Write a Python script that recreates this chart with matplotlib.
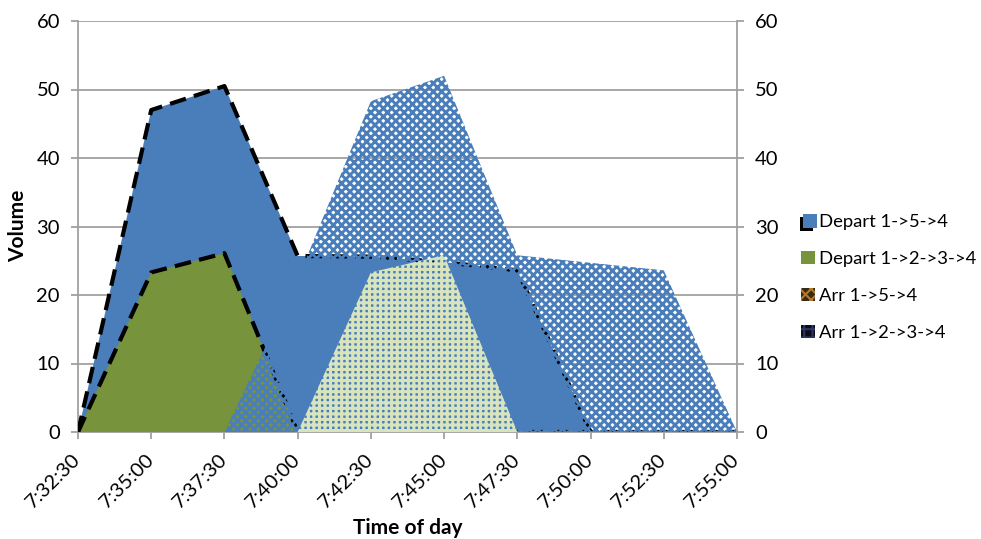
import matplotlib.pyplot as plt
from matplotlib.patches import Rectangle
from matplotlib.legend_handler import HandlerBase

times = ["7:32:30", "7:35:00", "7:37:30", "7:40:00", "7:42:30",
         "7:45:00", "7:47:30", "7:50:00", "7:52:30", "7:55:00"]
depart_154 = [0, 47.0, 50.5, 25.7, 25.6, 24.8, 23.6, 0, 0, 0]
depart_1234 = [0, 23.3, 26.1, 0, 0, 0, 0, 0, 0, 0]
arr_154 = [0, 0, 0, 22.3, 48.3, 52.0, 25.8, 24.7, 23.6, 0]
arr_1234 = [0, 0, 0, 0, 23.3, 25.8, 0, 0, 0, 0]
labels = ["Depart 1->5->4", "Depart 1->2->3->4", "Arr 1->5->4", "Arr 1->2->3->4"]

blue = "#4a7ebb"
green = "#77933c"
pale = "#d7e4bd"
grey = "#a0a0a0"

plt.rcParams['font.family'] = ['Lato', 'DejaVu Sans']

fig = plt.figure(figsize=(9.81, 5.39), dpi=100)
ax = fig.add_axes([78 / 981, 1 - 432 / 539, (737 - 78) / 981, (432 - 21) / 539])
x = list(range(len(times)))

# departures (primary axis), solid with dashed black outline
ax.fill_between(x, 0, depart_154, facecolor=blue, linewidth=0, zorder=2)
ax.fill_between(x, 0, depart_1234, facecolor=green, linewidth=0, zorder=3)
ax.plot(x, depart_154, color="black", lw=3, ls=(0, (4, 2)), zorder=4)
ax.plot(x, depart_1234, color="black", lw=3, ls=(0, (4, 2)), zorder=4)

# arrivals (secondary axis), pattern fill on transparent background
plt.rcParams['hatch.linewidth'] = 2.1
ax.fill_between(x, 0, arr_154, facecolor="none", edgecolor=blue, hatch="xxxx", linewidth=0, zorder=5)
plt.rcParams['hatch.linewidth'] = 2.2
ax.fill_between(x, 0, arr_1234, facecolor="none", edgecolor=pale, hatch="+++", linewidth=0, zorder=6)

ax.set_xlim(0, len(times) - 1)
ax.set_ylim(0, 60)
ax.set_yticks(range(0, 61, 10))
ax.set_xticks(x)
ax.set_xticklabels(times, rotation=45, ha="right", va="center", rotation_mode="anchor")

ax.grid(axis="y", color=grey, lw=1.3, zorder=0)
ax.set_axisbelow(True)
for side in ["top", "right"]:
    ax.spines[side].set_visible(False)
for side in ["left", "bottom"]:
    ax.spines[side].set_color(grey)
    ax.spines[side].set_linewidth(1.3)
ax.tick_params(axis="both", colors=grey, length=5, width=1.3, labelsize=14.5, labelcolor="black")
ax.tick_params(axis="y", pad=8)
ax.tick_params(axis="x", pad=13)

ax2 = ax.twinx()
ax2.set_ylim(0, 60)
ax2.set_yticks(range(0, 61, 10))
for side in ["top", "left", "bottom"]:
    ax2.spines[side].set_visible(False)
ax2.spines["right"].set_color(grey)
ax2.spines["right"].set_linewidth(1.3)
ax2.tick_params(axis="y", colors=grey, length=5, width=1.3, labelsize=14.5, labelcolor="black", pad=8)

fig.text(408 / 981, 1 - 528 / 539, "Time of day", ha="center", va="center", fontsize=15, fontweight="bold")
fig.text(18 / 981, 1 - 226 / 539, "Volume", ha="center", va="center", rotation=90, fontsize=15, fontweight="bold")


class ShadowSquare(HandlerBase):
    def create_artists(self, legend, orig_handle, xdescent, ydescent, width, height, fontsize, trans):
        s = height
        back = Rectangle((-xdescent - 1, -ydescent - 2.5), s, s, facecolor="black", lw=0, transform=trans)
        front = Rectangle((-xdescent + 1.5, -ydescent), s, s, facecolor=blue, lw=0, transform=trans)
        return [back, front]


plt.rcParams['hatch.linewidth'] = 1.5
h1 = Rectangle((0, 0), 1, 1, facecolor=blue)
h2 = Rectangle((0, 0), 1, 1, facecolor=green, lw=0)
h3 = Rectangle((0, 0), 1, 1, facecolor="#3a2a12", edgecolor="#b07a30", hatch="xxx", lw=0)
h4 = Rectangle((0, 0), 1, 1, facecolor="#0c0c18", edgecolor="#2c3566", hatch="++", lw=0)
fig.legend([h1, h2, h3, h4], labels, loc="upper left", bbox_to_anchor=(801 / 981, 1 - 214 / 539),
           frameon=False, fontsize=13.3, handlelength=0.75, handleheight=0.75, handletextpad=0.2,
           labelspacing=1.12, borderpad=0, borderaxespad=0, handler_map={h1: ShadowSquare()})

fig.savefig("out.png", dpi=100)
